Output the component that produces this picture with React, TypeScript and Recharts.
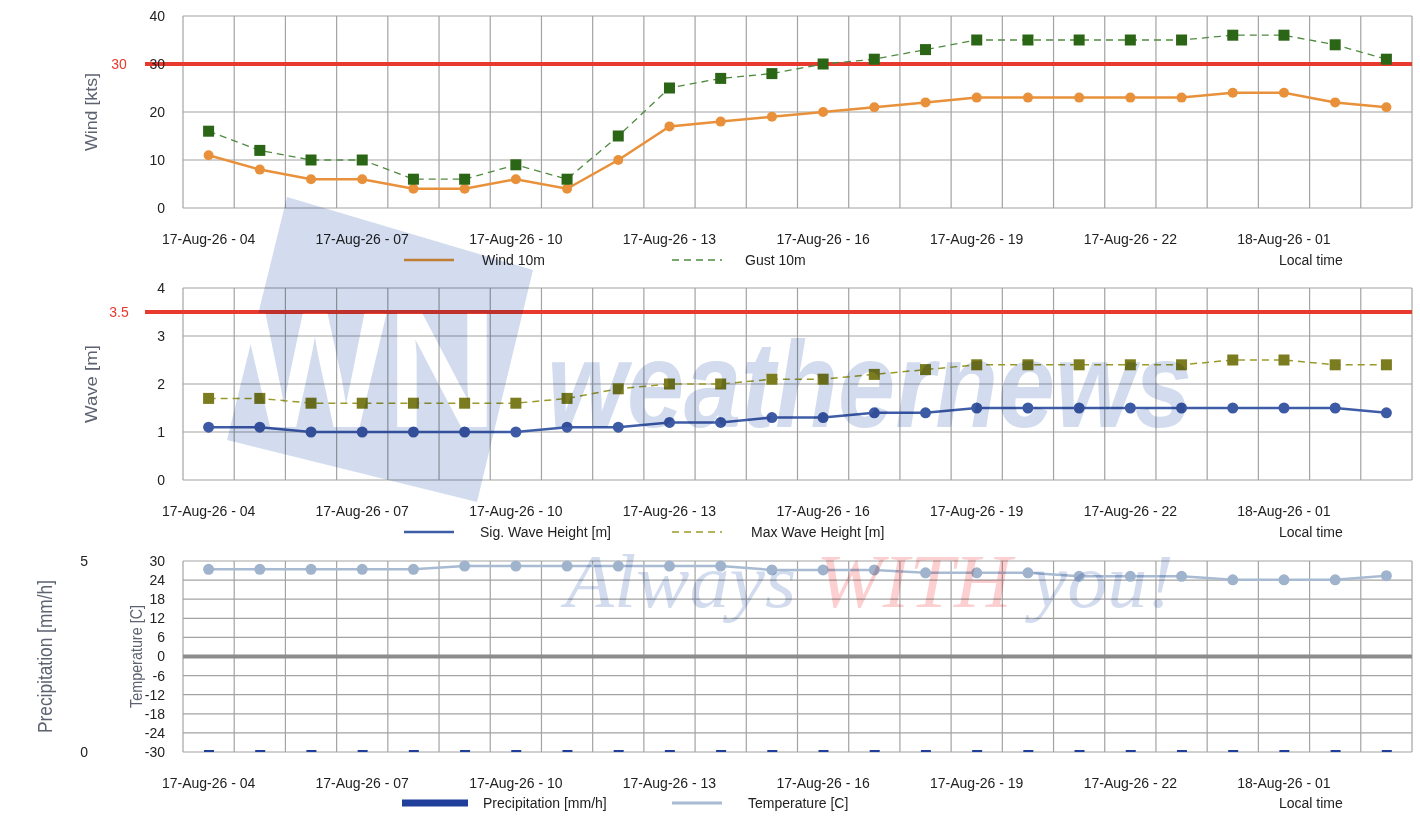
import React from 'react';
import { ComposedChart, Line, Bar, XAxis, YAxis, CartesianGrid, ReferenceLine } from 'recharts';

const times = [
  '17-Aug-26 - 04', '17-Aug-26 - 05', '17-Aug-26 - 06', '17-Aug-26 - 07', '17-Aug-26 - 08', '17-Aug-26 - 09',
  '17-Aug-26 - 10', '17-Aug-26 - 11', '17-Aug-26 - 12', '17-Aug-26 - 13', '17-Aug-26 - 14', '17-Aug-26 - 15',
  '17-Aug-26 - 16', '17-Aug-26 - 17', '17-Aug-26 - 18', '17-Aug-26 - 19', '17-Aug-26 - 20', '17-Aug-26 - 21',
  '17-Aug-26 - 22', '17-Aug-26 - 23', '18-Aug-26 - 00', '18-Aug-26 - 01', '18-Aug-26 - 02', '18-Aug-26 - 03',
];
const wind10m = [11, 8, 6, 6, 4, 4, 6, 4, 10, 17, 18, 19, 20, 21, 22, 23, 23, 23, 23, 23, 24, 24, 22, 21];
const gust10m = [16, 12, 10, 10, 6, 6, 9, 6, 15, 25, 27, 28, 30, 31, 33, 35, 35, 35, 35, 35, 36, 36, 34, 31];
const sigWave = [1.1, 1.1, 1.0, 1.0, 1.0, 1.0, 1.0, 1.1, 1.1, 1.2, 1.2, 1.3, 1.3, 1.4, 1.4, 1.5, 1.5, 1.5, 1.5, 1.5, 1.5, 1.5, 1.5, 1.4];
const maxWave = [1.7, 1.7, 1.6, 1.6, 1.6, 1.6, 1.6, 1.7, 1.9, 2.0, 2.0, 2.1, 2.1, 2.2, 2.3, 2.4, 2.4, 2.4, 2.4, 2.4, 2.5, 2.5, 2.4, 2.4];
const temperature = [27.4, 27.4, 27.4, 27.4, 27.4, 28.4, 28.4, 28.4, 28.4, 28.4, 28.4, 27.2, 27.2, 27.2, 26.3, 26.3, 26.3, 25.2, 25.2, 25.2, 24.1, 24.1, 24.1, 25.4];
const precipitation = [0, 0, 0, 0, 0, 0, 0, 0, 0, 0, 0, 0, 0, 0, 0, 0, 0, 0, 0, 0, 0, 0, 0, 0];

const windTicks = [0, 10, 20, 30, 40];
const waveTicks = [0, 1, 2, 3, 4];
const tempTicks = [-30, -24, -18, -12, -6, 0, 6, 12, 18, 24, 30];
const precipTicks = [0, 5];
const windLimit = 30;
const waveLimit = 3.5;

const windData = times.map((t, i) => ({ time: t, wind: wind10m[i], gust: gust10m[i] }));
const waveData = times.map((t, i) => ({ time: t, sig: sigWave[i], max: maxWave[i] }));
const weatherData = times.map((t, i) => ({ time: t, temp: temperature[i], precip: precipitation[i] }));

const FONT = '"Liberation Sans", Arial, sans-serif';
const GRID = '#a3a3a3';
const RED = '#e8392f';

// grid lines sit on the category edges, not the centres
const bandEdges = ({ offset }: any) => {
  const step = offset.width / times.length;
  return times.map((_, i) => offset.left + i * step).concat(offset.left + offset.width);
};

const TimeTick = (props: any) => {
  const { x, y, payload } = props;
  return (
    <text x={x} y={y + 34} textAnchor="middle" fontSize={14} fill="#222" fontFamily={FONT}>
      {payload.value}
    </text>
  );
};

const squareDot = (fill: string, size: number) => (props: any) => {
  const { cx, cy, index } = props;
  if (cx == null || cy == null) return <g key={`e-${index}`} />;
  return <rect key={`sq-${index}`} x={cx - size / 2} y={cy - size / 2} width={size} height={size} fill={fill} />;
};

const limitShape = (label: string) => (props: any) => {
  const { x1, y1, x2, y2 } = props;
  return (
    <g>
      <line x1={x1 - 38} y1={y1} x2={x2} y2={y2} stroke={RED} strokeWidth={4} />
      <text x={x1 - 64} y={y1} dy="0.35em" textAnchor="middle" fill={RED} fontSize={14} fontFamily={FONT}>
        {label}
      </text>
    </g>
  );
};

const axisTitle = (text: string, x: number, size: number, len: number) => (props: any) => {
  const vb = props.viewBox || { y: 0, height: 0 };
  const cy = vb.y + vb.height / 2;
  return (
    <text
      x={x}
      y={cy}
      transform={`rotate(-90 ${x} ${cy})`}
      textAnchor="middle"
      dominantBaseline="central"
      fontSize={size}
      fill="#5c6270"
      fontFamily={FONT}
      textLength={len}
      lengthAdjust="spacingAndGlyphs"
    >
      {text}
    </text>
  );
};

type LegendItem = { x1: number; x2: number; color: string; width: number; dash?: string; tx: number; label: string };

const LegendRow = ({ top, items }: { top: number; items: LegendItem[] }) => (
  <svg style={{ position: 'absolute', left: 0, top: top - 12 }} width={1420} height={24}>
    {items.map((it) => (
      <g key={it.label}>
        <line x1={it.x1} x2={it.x2} y1={12} y2={12} stroke={it.color} strokeWidth={it.width} strokeDasharray={it.dash} />
        <text x={it.tx} y={12} dy="0.35em" fontSize={14} fill="#222" fontFamily={FONT}>
          {it.label}
        </text>
      </g>
    ))}
    <text x={1279} y={12} dy="0.35em" fontSize={14} fill="#222" fontFamily={FONT}>
      Local time
    </text>
  </svg>
);

const chartProps = { width: 1420, height: 272 };
const yTick = { fontSize: 14, fill: '#222', fontFamily: FONT };

// watermark is multiplied over the charts, as in the printed report
const WM_BLUE = '#d2dcee';
const WM_RED = '#fcd0d0';

const Watermark = () => (
  <svg
    style={{ position: 'absolute', left: 0, top: 0, pointerEvents: 'none', mixBlendMode: 'multiply' }}
    width={1420}
    height={820}
  >
    <defs>
      <mask id="wnMask">
        <rect width={1420} height={820} fill="black" />
        <polygon points="287,197 533,270 477,502 227,440" fill="white" />
        <text x={243} y={427} fontSize={166} fontWeight="bold" fontFamily={FONT} fill="black" textLength={254} lengthAdjust="spacingAndGlyphs">
          WN
        </text>
      </mask>
    </defs>
    <rect width={1420} height={820} fill={WM_BLUE} mask="url(#wnMask)" />
    <text x={547} y={427} fontSize={122} fontWeight="bold" fontStyle="italic" fontFamily={FONT} fill={WM_BLUE} textLength={645} lengthAdjust="spacingAndGlyphs">
      weathernews
    </text>
    <text x={565} y={607} fontSize={76} fontStyle="italic" fontFamily='"Liberation Serif", serif' textLength={609} lengthAdjust="spacingAndGlyphs">
      <tspan fill={WM_BLUE}>Always </tspan>
      <tspan fill={WM_RED}>WITH</tspan>
      <tspan fill={WM_BLUE}> you!</tspan>
    </text>
  </svg>
);

export default function App() {
  return (
    <div style={{ position: 'relative', width: 1420, height: 820, background: '#fff', fontFamily: FONT, isolation: 'isolate' }}>
      <style>{'body{margin:0}'}</style>

      <div style={{ position: 'absolute', left: 0, top: 0 }}>
        <ComposedChart {...chartProps} data={windData} margin={{ top: 16, right: 8, bottom: 0, left: 0 }}>
          <CartesianGrid stroke={GRID} strokeWidth={1.2} verticalCoordinatesGenerator={bandEdges} />
          <XAxis dataKey="time" scale="band" height={64} interval={2} tick={<TimeTick />} tickLine={false} axisLine={false} tickSize={0} />
          <YAxis
            width={183}
            domain={[0, 40]}
            ticks={windTicks}
            tick={yTick}
            tickLine={false}
            axisLine={false}
            tickSize={0}
            tickMargin={18}
            label={{ content: axisTitle('Wind [kts]', 91, 17, 78) }}
          />
          <ReferenceLine y={windLimit} shape={limitShape(String(windLimit))} />
          <Line dataKey="wind" stroke="#e8913a" strokeWidth={2.5} dot={{ r: 5, fill: '#e8913a', stroke: 'none' }} isAnimationActive={false} />
          <Line dataKey="gust" stroke="#4f8a3f" strokeWidth={1.3} strokeDasharray="7 5" dot={squareDot('#2b6516', 11)} isAnimationActive={false} />
        </ComposedChart>
      </div>

      <div style={{ position: 'absolute', left: 0, top: 272 }}>
        <ComposedChart {...chartProps} data={waveData} margin={{ top: 16, right: 8, bottom: 0, left: 0 }}>
          <CartesianGrid stroke={GRID} strokeWidth={1.2} verticalCoordinatesGenerator={bandEdges} />
          <XAxis dataKey="time" scale="band" height={64} interval={2} tick={<TimeTick />} tickLine={false} axisLine={false} tickSize={0} />
          <YAxis
            width={183}
            domain={[0, 4]}
            ticks={waveTicks}
            tick={yTick}
            tickLine={false}
            axisLine={false}
            tickSize={0}
            tickMargin={18}
            label={{ content: axisTitle('Wave [m]', 91, 17, 78) }}
          />
          <ReferenceLine y={waveLimit} shape={limitShape(String(waveLimit))} />
          <Line dataKey="sig" stroke="#3f5ca6" strokeWidth={2.5} dot={{ r: 5.5, fill: '#3d5aa4', stroke: 'none' }} isAnimationActive={false} />
          <Line dataKey="max" stroke="#9a9a2a" strokeWidth={1.5} strokeDasharray="7 5" dot={squareDot('#7b7b1f', 11)} isAnimationActive={false} />
        </ComposedChart>
      </div>

      <div style={{ position: 'absolute', left: 0, top: 544 }}>
        <ComposedChart {...chartProps} data={weatherData} margin={{ top: 17, right: 8, bottom: 0, left: 0 }}>
          <CartesianGrid yAxisId="a" stroke={GRID} strokeWidth={1.2} verticalCoordinatesGenerator={bandEdges} />
          <XAxis dataKey="time" scale="band" height={64} interval={2} tick={<TimeTick />} tickLine={false} axisLine={false} tickSize={0} />
          <YAxis
            yAxisId="a"
            width={63}
            domain={[-30, 30]}
            ticks={tempTicks}
            tick={yTick}
            tickLine={false}
            axisLine={false}
            tickSize={0}
            tickMargin={18}
            interval={0}
            label={{ content: axisTitle('Temperature [C]', 136, 17, 103) }}
          />
          <YAxis
            yAxisId="b"
            width={120}
            domain={[0, 5]}
            ticks={precipTicks}
            tick={yTick}
            tickLine={false}
            axisLine={false}
            tickSize={0}
            tickMargin={32}
            label={{ content: axisTitle('Precipitation [mm/h]', 45, 20, 153) }}
          />
          <ReferenceLine yAxisId="a" y={0} stroke="#8c8c8c" strokeWidth={4} />
          <Bar yAxisId="b" dataKey="precip" fill="#1f3f9a" barSize={10} minPointSize={2} isAnimationActive={false} />
          <Line yAxisId="a" dataKey="temp" stroke="#a8bbd3" strokeWidth={2.5} dot={{ r: 5.5, fill: '#9fb3cc', stroke: 'none' }} isAnimationActive={false} />
        </ComposedChart>
      </div>

      <LegendRow
        top={260}
        items={[
          { x1: 404, x2: 454, color: '#e8913a', width: 2.5, tx: 482, label: 'Wind 10m' },
          { x1: 672, x2: 722, color: '#4f8a3f', width: 1.5, dash: '7 5', tx: 745, label: 'Gust 10m' },
        ]}
      />
      <LegendRow
        top={532}
        items={[
          { x1: 404, x2: 454, color: '#3f5ca6', width: 2.5, tx: 480, label: 'Sig. Wave Height [m]' },
          { x1: 672, x2: 722, color: '#9a9a2a', width: 1.5, dash: '7 5', tx: 751, label: 'Max Wave Height [m]' },
        ]}
      />
      <LegendRow
        top={803}
        items={[
          { x1: 402, x2: 468, color: '#1f3f9a', width: 7, tx: 483, label: 'Precipitation [mm/h]' },
          { x1: 672, x2: 722, color: '#a8bbd3', width: 3, tx: 748, label: 'Temperature [C]' },
        ]}
      />

      <Watermark />
    </div>
  );
}
